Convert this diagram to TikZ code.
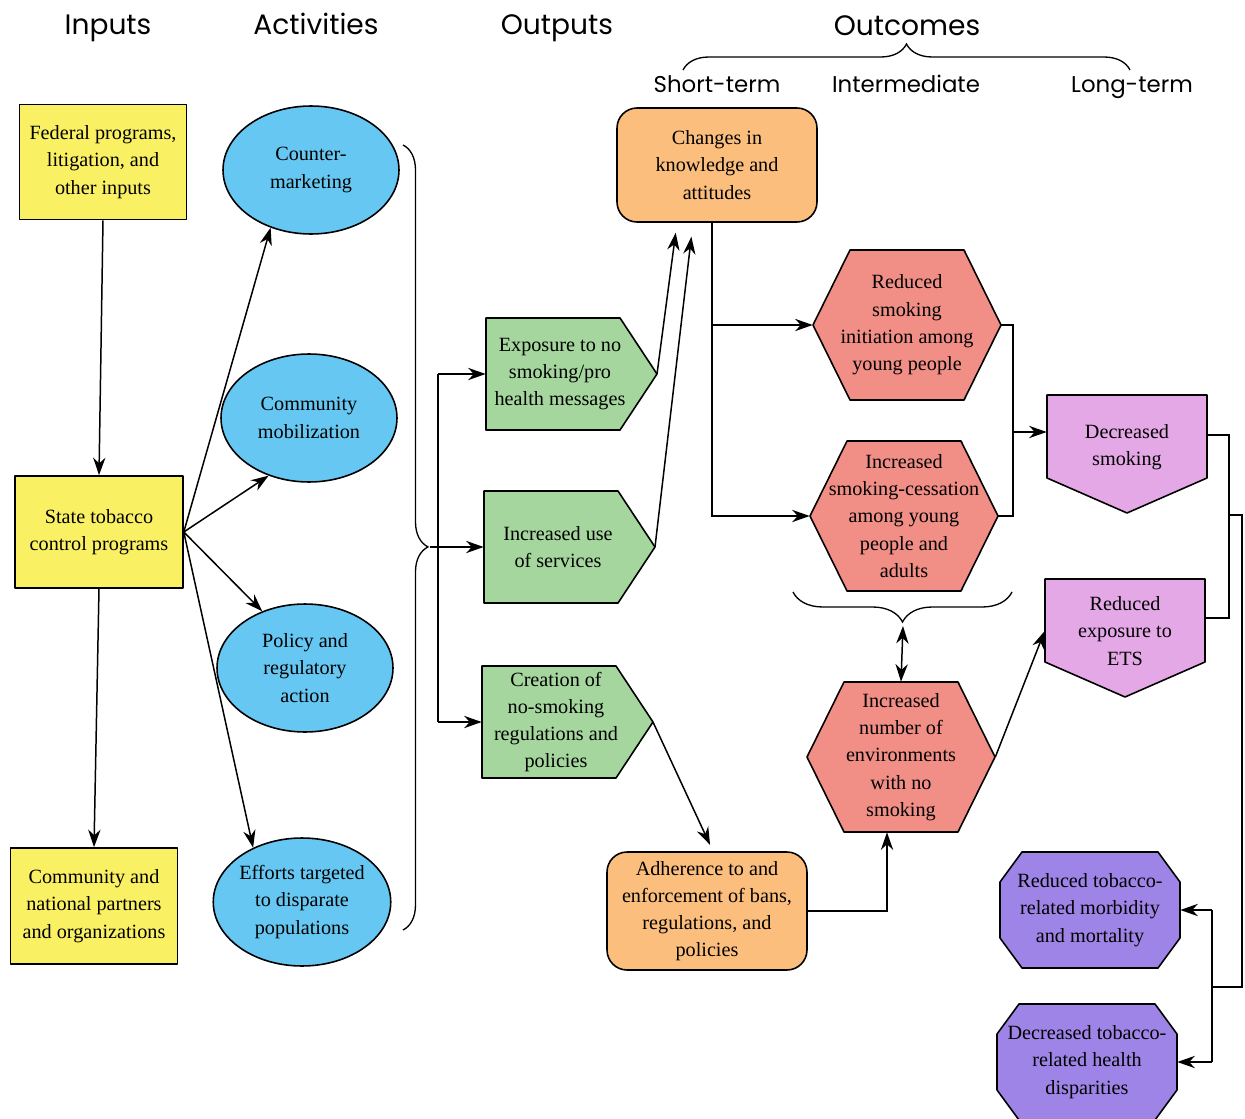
\documentclass[tikz,border=0pt]{standalone}
\usepackage{fontspec}
\setmainfont{Liberation Serif}
\newfontfamily\headfont{Poppins}
\usepackage{tikz}
\usetikzlibrary{arrows.meta,calc,shapes.geometric,decorations.pathreplacing}
\usepackage{xcolor}

\definecolor{inyellow}{RGB}{250,240,100}
\definecolor{actblue}{RGB}{102,200,242}
\definecolor{outgreen}{RGB}{165,214,158}
\definecolor{storange}{RGB}{251,190,125}
\definecolor{midpink}{RGB}{241,142,134}
\definecolor{ltpurple}{RGB}{228,168,230}
\definecolor{dkpurple}{RGB}{158,132,230}

\newcommand{\px}{0.02cm}

\tikzset{
  shapeline/.style={draw=black,line width=0.9pt,line join=round},
  boxtext/.style={align=center,inner sep=0pt,font=\fontsize{11.5}{15.5}\selectfont},
  inbox/.style={boxtext,shapeline,fill=inyellow,rectangle},
  actell/.style={boxtext,shapeline,fill=actblue,ellipse,minimum width=3.52cm,minimum height=2.56cm},
  stbox/.style={boxtext,shapeline,fill=storange,rounded corners=0.4cm,minimum width=4cm},
  arr/.style={line width=0.85pt,-{Stealth[length=10pt,width=7pt]}},
  darr/.style={line width=0.85pt,{Stealth[length=10pt,width=7pt]}-{Stealth[length=10pt,width=7pt]}},
  conn/.style={line width=0.85pt},
  bracedeco/.style={line width=0.75pt,decorate},
  head/.style={anchor=base,font=\headfont\fontsize{16}{19}\selectfont},
  subhead/.style={anchor=base,font=\headfont\fontsize{13}{16}\selectfont},
}

% outlined shapes drawn first, text node on top
\newcommand{\pentR}[4]{%
  \filldraw[shapeline,fill=outgreen] (#2-74,#3-56) -- (#2+60,#3-56) -- (#2+97,#3) -- (#2+60,#3+56) -- (#2-74,#3+56) -- cycle;
  \node[boxtext,minimum width=2.96cm,minimum height=2.24cm] (#1) at (#2,#3) {#4};
  \coordinate (#1-tip) at (#2+97,#3);}
\newcommand{\pentD}[4]{%
  \filldraw[shapeline,fill=ltpurple] (#2-80,#3-52) -- (#2+80,#3-52) -- (#2+80,#3+31) -- (#2,#3+66) -- (#2-80,#3+31) -- cycle;
  \node[boxtext,minimum width=3.2cm,minimum height=2.08cm] (#1) at (#2,#3) {#4};}
\newcommand{\hexa}[4]{%
  \filldraw[shapeline,fill=midpink] (#2-94,#3) -- (#2-57,#3-75) -- (#2+57,#3-75) -- (#2+94,#3) -- (#2+57,#3+75) -- (#2-57,#3+75) -- cycle;
  \node[boxtext,minimum width=3.76cm,minimum height=3cm] (#1) at (#2,#3) {#4};}
\newcommand{\octa}[4]{%
  \filldraw[shapeline,fill=dkpurple] (#2-90,#3-28) -- (#2-68,#3-58) -- (#2+68,#3-58) -- (#2+90,#3-28) -- (#2+90,#3+28) -- (#2+68,#3+58) -- (#2-68,#3+58) -- (#2-90,#3+28) -- cycle;
  \node[boxtext,minimum width=3.6cm,minimum height=2.32cm] (#1) at (#2,#3) {#4};}

\begin{document}
\begin{tikzpicture}[x=\px,y=-\px]
\useasboundingbox (0,0) rectangle (1245,1119);

% headings
\node[head] (hin) at (108,34) {Inputs};
\node[head] (hact) at (316,34) {Activities};
\node[head] (hout) at (557,34) {Outputs};
\node[head] (hoc) at (907,35) {Outcomes};
\node[subhead] (hst) at (717,92) {Short-term};
\node[subhead] (hmid) at (906,92) {Intermediate};
\node[subhead] (hlt) at (1132,92) {Long-term};
\draw[bracedeco,decoration={brace,amplitude=0.52cm}] (683,70) -- (1130,70);

% inputs
\node[inbox,minimum width=3.34cm,minimum height=2.3cm] (fed) at (103,162) {Federal programs,\\litigation, and\\other inputs};
\node[inbox,minimum width=3.36cm,minimum height=2.24cm] (state) at (99,532) {State tobacco\\control programs};
\node[inbox,minimum width=3.34cm,minimum height=2.32cm] (partners) at (94,906) {Community and\\national partners\\and organizations};

% activities
\node[actell] (cmkt) at (311,170) {Counter-\\marketing};
\node[actell] (mob) at (309,418) {Community\\mobilization};
\node[actell] (pol) at (305,668) {Policy and\\regulatory\\action};
\node[actell] (eff) at (302,902) {Efforts targeted\\to disparate\\populations};

% outputs
\pentR{expo}{560}{374}{Exposure to no\\smoking/pro\\health messages}
\pentR{incr}{558}{547}{Increased use\\of services}
\pentR{creat}{556}{722}{Creation of\\no-smoking\\regulations and\\policies}

% outcomes
\node[stbox,minimum height=2.28cm] (chg) at (717,165) {Changes in\\knowledge and\\attitudes};
\node[stbox,minimum height=2.36cm] (adh) at (707,911) {Adherence to and\\enforcement of bans,\\regulations, and\\policies};
\hexa{rsi}{907}{325}{Reduced\\smoking\\initiation among\\young people}
\hexa{cess}{904}{516}{Increased\\smoking-cessation\\among young\\people and\\adults}
\hexa{env}{901}{757}{Increased\\number of\\environments\\with no\\smoking}
\pentD{ds}{1127}{447}{Decreased\\smoking}
\pentD{rexp}{1125}{631}{Reduced\\exposure to\\ETS}
\octa{morb}{1090}{910}{Reduced tobacco-\\related morbidity\\and mortality}
\octa{disp}{1087}{1062}{Decreased tobacco-\\related health\\disparities}

% inputs to activities
\draw[arr] (fed.south) -- (state.north);
\draw[arr] (state.south) -- (partners.north);
\foreach \t in {cmkt.235,mob.235,pol.127,eff.132}
  \draw[arr] (state.east) -- (\t);

% activities to outputs
\draw[bracedeco,decoration={brace,amplitude=0.5cm,aspect=0.512}] (403,145) -- (403,930);
\coordinate (acttip) at (430,547);
\coordinate (split) at (438,547);
\draw[arr] (acttip) -- (incr.west);
\draw[conn] (split |- expo.west) -- (split |- creat.west);
\draw[arr] (split |- expo.west) -- (expo.west);
\draw[arr] (split |- creat.west) -- (creat.west);

% outputs to short-term
\draw[arr,shorten >=0.2cm] (expo-tip) -- ([xshift=-0.8cm]chg.south);
\draw[arr,shorten >=0.28cm] (incr-tip) -- ([xshift=-0.48cm]chg.south);
\draw[arr,shorten >=0.14cm] (creat-tip) -- ([xshift=0.12cm]adh.north);

% short-term to intermediate
\draw[arr] ([xshift=-0.1cm]chg.south) |- (rsi.west);
\draw[arr] ([xshift=-0.1cm]chg.south) |- (cess.west);
\draw[arr] (adh.east) -| ([xshift=-0.28cm]env.south);
\draw[bracedeco,decoration={brace,amplitude=0.6cm}] (1012,592) -- (793,592);
\coordinate (pinktip) at (903,626);
\draw[darr] (pinktip) -- (env.north);

% intermediate to long-term
\coordinate (merge) at (1013,432);
\draw[conn] (rsi.east) -| (merge) |- (cess.east);
\draw[arr] (merge) -- (merge -| ds.west);
\draw[arr] (env.east) -- (rexp.west);

\coordinate (rj) at (1229,618);
\coordinate (rk) at (1229,515);
\coordinate (lk) at (1212,987);
\draw[conn] ([yshift=0.24cm]ds.east) -| (rj) -- (rj -| rexp.east);
\draw[conn] (rk) -- ++(13,0) |- (lk);
\draw[conn] (lk |- morb.east) -- (lk |- disp.east);
\draw[arr] (lk |- morb.east) -- (morb.east);
\draw[arr] (lk |- disp.east) -- (disp.east);
\end{tikzpicture}
\end{document}
